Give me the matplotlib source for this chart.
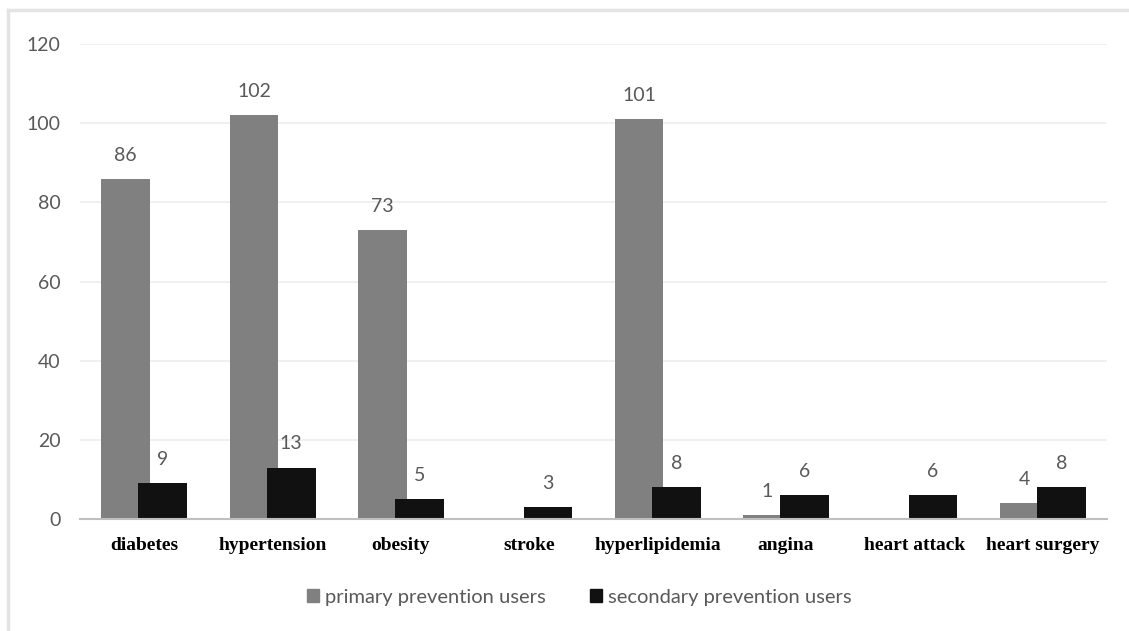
import numpy as np
import matplotlib.pyplot as plt
from matplotlib.patches import Patch

categories = ['diabetes', 'hypertension', 'obesity', 'stroke', 'hyperlipidemia',
              'angina', 'heart attack', 'heart surgery']
primary = [86, 102, 73, np.nan, 101, 1, np.nan, 4]  # no bar for stroke / heart attack
secondary = [9, 13, 5, 3, 8, 6, 6, 8]
yticks = [0, 20, 40, 60, 80, 100, 120]

gray_col = '#808080'
black_col = '#111111'
text_col = '#595959'

fig = plt.figure(figsize=(11.29, 6.31), dpi=100, facecolor='white')
ax = fig.add_axes([80/1129, 0.1775, 1027/1129, 0.7525])

# faint frame around the whole chart (top and left edges)
fig.add_artist(plt.Line2D([8/1129, 1], [1-10/631, 1-10/631], transform=fig.transFigure,
                          color='#e4e4e4', lw=2.5))
fig.add_artist(plt.Line2D([8/1129, 8/1129], [0, 1-10/631], transform=fig.transFigure,
                          color='#e4e4e4', lw=2.5))

x = np.arange(len(categories))
w = 0.38
off = 0.145

ax.bar(x - off, primary, w, color=gray_col, zorder=2)
ax.bar(x + off, secondary, w, color=black_col, zorder=3)

for xi, v in zip(x - off, primary):
    if not np.isnan(v):
        ax.annotate(f'{v:g}', (xi, v), xytext=(0, 17), textcoords='offset points',
                    ha='center', va='center', fontsize=14, color=text_col, family='Lato')
for xi, v in zip(x + off, secondary):
    ax.annotate(f'{v:g}', (xi, v), xytext=(0, 17), textcoords='offset points',
                ha='center', va='center', fontsize=14, color=text_col, family='Lato')

ax.set_xlim(-0.5, len(categories) - 0.5)
ax.set_ylim(0, 120)
ax.set_yticks(yticks)
ax.set_yticklabels([str(t) for t in yticks], fontsize=14, color=text_col, family='Lato')
ax.set_xticks(x)
ax.set_xticklabels(categories, fontsize=14, fontweight='bold', family='Liberation Serif',
                   color='black')
ax.tick_params(axis='y', length=0, pad=14)
ax.tick_params(axis='x', length=0, pad=13)
ax.yaxis.grid(True, color='#eeeeee', lw=1.2, zorder=0)
ax.set_axisbelow(True)
for s in ['top', 'right', 'left']:
    ax.spines[s].set_visible(False)
ax.spines['bottom'].set_color('#bfbfbf')
ax.spines['bottom'].set_linewidth(1.5)
ax.spines['bottom'].set_zorder(4)

handles = [Patch(color=gray_col), Patch(color=black_col)]
leg = fig.legend(handles, ['primary prevention users', 'secondary prevention users'],
                 loc='center', bbox_to_anchor=(0.513, 1 - 597/631), ncol=2, frameon=False,
                 handlelength=0.6, handleheight=0.6, handletextpad=0.3, columnspacing=2.2,
                 prop={'family': 'Lato', 'size': 14.5})
for t in leg.get_texts():
    t.set_color(text_col)

fig.savefig('out.png', dpi=100, facecolor='white')
